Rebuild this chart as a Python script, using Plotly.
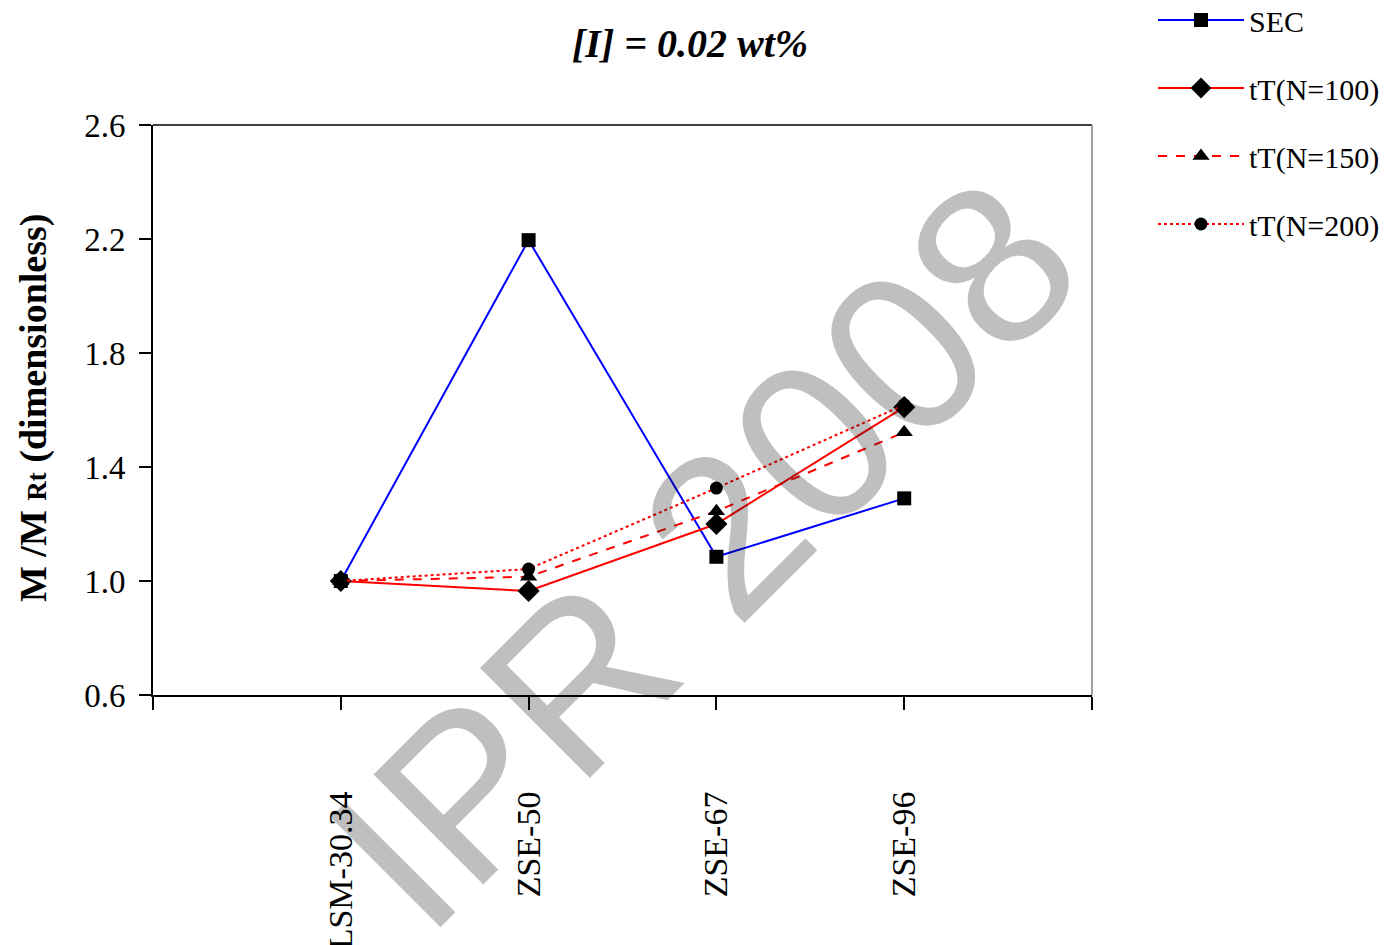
import plotly.graph_objects as go

categories = ["LSM-30.34", "ZSE-50", "ZSE-67", "ZSE-96"]
sec = [1.00, 2.196, 1.085, 1.29]
tt_n100 = [1.00, 0.965, 1.20, 1.61]
tt_n150 = [1.00, 1.015, 1.245, 1.522]
tt_n200 = [1.00, 1.042, 1.326, 1.618]
y_ticks = [0.6, 1.0, 1.4, 1.8, 2.2, 2.6]

x_pos = list(range(1, len(categories) + 1))

OFF = 8  # page body margin
W, H = 1389 - OFF, 945 - OFF
# plot area in screen pixels
SL, SR, ST, SB = 153, 1092, 125, 695
L, R, T, B = SL - OFF, SR - OFF, ST - OFF, SB - OFF

def px_x(p):
    return (p - SL) / (SR - SL)

def px_y(p):
    return (SB - p) / (SB - ST)

serif = "Liberation Serif, Times New Roman, serif"

fig = go.Figure()
series = [
    ("SEC", sec, "rgb(0,0,255)", "solid", "square", 14),
    ("tT(N=100)", tt_n100, "rgb(255,0,0)", "solid", "diamond", 17),
    ("tT(N=150)", tt_n150, "rgb(255,0,0)", "dash", "triangle-up", 15),
    ("tT(N=200)", tt_n200, "rgb(255,0,0)", "dot", "circle", 13),
]
for i, (name, vals, col, dash, sym, size) in enumerate(series):
    fig.add_trace(go.Scatter(
        x=x_pos, y=vals, name=name, mode="lines+markers",
        line=dict(color=col, width=2, dash=dash),
        marker=dict(symbol=sym, size=size, color="black"),
        legendgroup="g%d" % i,
    ))

fig.update_layout(
    width=W, height=H,
    paper_bgcolor="white", plot_bgcolor="white",
    margin=dict(l=L, r=W - R, t=T, b=H - B, autoexpand=False),
    font=dict(family=serif, color="black", size=32),
    showlegend=True,
    legend=dict(
        x=px_x(1153), y=px_y(-6), xanchor="left", yanchor="top",
        font=dict(family=serif, size=30, color="black"),
        tracegroupgap=26, bgcolor="rgba(0,0,0,0)",
        itemwidth=86,
    ),
)
fig.update_xaxes(
    range=[0, len(categories) + 1],
    tickmode="array", tickvals=list(range(0, len(categories) + 2)),
    ticktext=[""] + categories + [""],
    tickangle=-90, ticks="outside", ticklen=13, tickwidth=2, tickcolor="black",
    showline=True, linecolor="black", linewidth=2, showgrid=False, zeroline=False,
    tickfont=dict(family=serif, size=34),
    ticklabelstandoff=68,
)
fig.update_yaxes(
    range=[0.6, 2.6], tickmode="array", tickvals=y_ticks,
    ticktext=["%.1f" % v for v in y_ticks],
    ticks="outside", ticklen=12, tickwidth=2, tickcolor="black",
    showline=True, linecolor="black", linewidth=2, showgrid=False, zeroline=False,
    tickfont=dict(family=serif, size=33),
    ticklabelstandoff=7,
)

# top and right frame lines
fig.add_shape(type="line", xref="paper", yref="paper", x0=0, x1=1, y0=1, y1=1,
              line=dict(color="black", width=1.5))
fig.add_shape(type="line", xref="paper", yref="paper", x0=1, x1=1, y0=0, y1=1,
              line=dict(color="rgb(128,128,128)", width=1.5))

# title
fig.add_annotation(
    x=px_x(690), y=px_y(43), xref="paper", yref="paper", showarrow=False,
    text="<b><i>[I] = 0.02 wt%</i></b>", xanchor="center", yanchor="middle",
    font=dict(family=serif, size=40, color="black"),
)
# y axis title
fig.add_annotation(
    x=px_x(33), y=px_y(408), xref="paper", yref="paper", showarrow=False,
    textangle=-90, xanchor="center", yanchor="middle",
    text='<b>M /M <span style="font-size:27px">Rt</span> (dimensionless)</b>',
    font=dict(family=serif, size=38, color="black"),
)
# watermark
fig.add_annotation(
    x=px_x(703), y=px_y(553), xref="paper", yref="paper", showarrow=False,
    textangle=-45, xanchor="center", yanchor="middle",
    text="IPR 2008",
    font=dict(family="Liberation Sans, Arial, sans-serif", size=226, color="rgba(0,0,0,0.25)"),
)

fig.write_html("out.html")
